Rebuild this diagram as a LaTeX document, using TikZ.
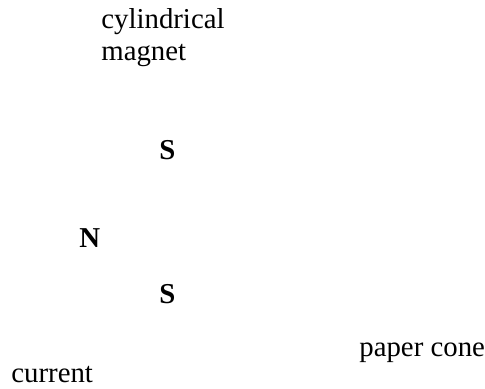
\documentclass[tikz,border=0pt]{standalone}
\usepackage{fontspec}
\setmainfont{Liberation Serif}
\usepackage{tikz}
\usetikzlibrary{positioning}

\begin{document}
\begin{tikzpicture}[
x=0.5bp,y=-0.5bp,
lbl/.style={inner sep=0pt,anchor=base west,align=left,font=\fontsize{14.4bp}{16bp}\selectfont},
pole/.style={inner sep=0pt,anchor=base west,font=\fontsize{14.4bp}{16bp}\selectfont\bfseries}
]
\useasboundingbox (0,0) rectangle (485,389);
% base of a two-line node is the last line
\node[lbl] (iman) at (101,61) {cylindrical\\magnet};
\node[pole] (sur1) at (159,160) {S};
\node[pole] (norte) at (79,248) {N};
\node[pole] (sur2) at (159,304) {S};
\node[lbl] (cono) at (359,356) {paper cone};
\node[lbl] (corriente) at (11,383) {current};
\end{tikzpicture}
\end{document}
